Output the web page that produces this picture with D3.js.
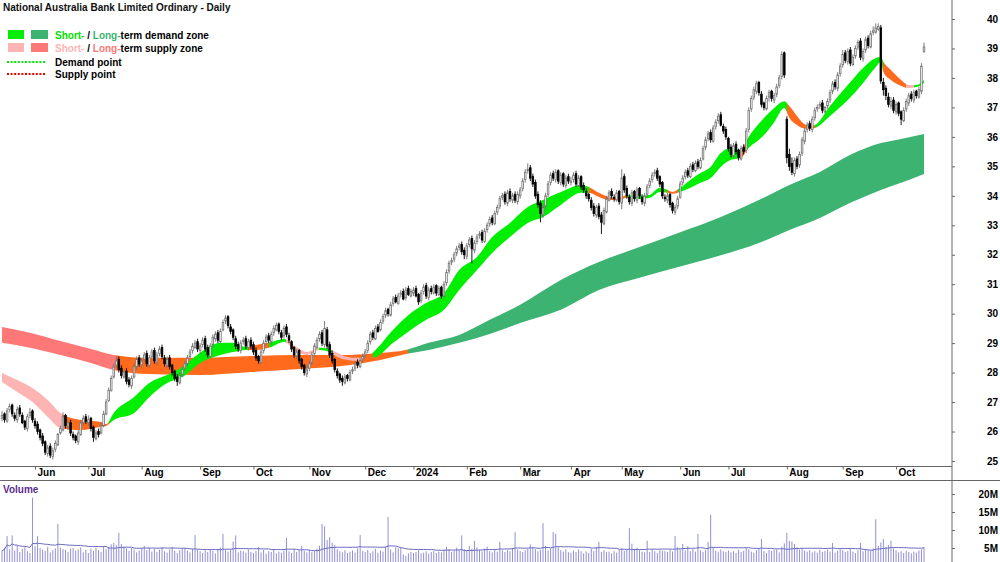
<!DOCTYPE html>
<html>
<head>
<meta charset="utf-8">
<script src="https://cdn.jsdelivr.net/npm/d3@7"></script>
<style>
body { margin: 0; background: #fff; }
svg { display: block; font-family: "Liberation Sans", Arial, sans-serif; }
</style>
</head>
<body>
<div id="chart"></div>
<script>
// daily prices (A$), one line per month, May 2023 .. Oct 2024
var closes = [
26.55,26.40,26.70,26.85,26.60,26.45,26.75,26.60,26.30,26.15,26.50,26.65,26.40,
26.20,26.00,25.80,25.60,25.30,25.45,25.20,25.35,25.60,25.90,26.10,26.50,26.20,26.30,25.95,25.80,25.70,25.95,26.30,26.45,26.35,
26.40,26.10,25.80,25.95,25.90,26.20,26.60,27.00,27.40,27.80,28.20,28.40,28.10,27.90,28.00,27.70,27.60,27.80,28.20,28.45,28.30,
28.40,28.60,28.30,28.50,28.70,28.40,28.60,28.80,28.55,28.30,28.45,28.20,28.00,27.80,27.70,27.90,28.10,28.30,28.50,28.70,28.90,29.00,28.80,
28.90,29.10,28.80,28.60,28.90,29.20,29.30,29.10,29.40,29.70,29.85,29.60,29.40,29.20,28.90,28.80,29.00,29.10,28.90,29.05,28.90,
28.70,28.50,28.40,28.70,29.00,29.20,29.10,29.30,29.50,29.60,29.40,29.20,29.50,29.30,29.10,28.80,28.60,28.70,28.40,28.20,28.00,28.10,
28.30,28.60,28.90,29.10,29.30,29.00,29.50,28.90,28.60,28.40,28.10,27.90,27.75,27.70,27.85,27.80,28.00,28.10,28.30,28.25,28.40,28.55,
28.70,29.00,29.30,29.20,29.50,29.40,29.70,29.90,30.10,30.00,30.30,30.50,30.40,30.60,30.70,30.50,30.80,30.65,30.75,
30.80,30.60,30.40,30.70,30.90,30.60,30.80,30.75,30.90,30.70,30.85,30.60,31.00,31.40,31.70,31.80,32.00,32.20,32.30,32.10,32.00,
32.30,32.50,32.20,32.40,32.60,32.70,32.50,32.80,33.00,33.20,33.10,33.40,33.60,33.90,34.00,33.80,34.10,33.90,34.00,33.85,34.05,
34.20,34.50,34.80,34.90,34.60,34.40,34.00,33.70,33.40,33.60,34.00,34.40,34.70,34.60,34.80,34.50,34.70,34.40,34.60,34.50,
34.50,34.70,34.40,34.60,34.30,34.20,34.00,33.90,33.60,33.40,33.60,33.30,33.10,33.50,33.90,34.10,34.00,33.90,34.10,33.80,
34.60,34.20,34.00,33.80,34.10,33.90,34.20,34.00,33.80,34.00,34.30,34.50,34.70,34.80,34.60,34.40,34.00,33.90,34.00,33.70,33.50,33.60,33.90,
34.40,34.60,34.80,34.70,35.00,34.90,35.10,35.00,35.20,35.60,35.90,36.10,35.90,36.30,36.50,36.70,36.40,36.20,36.00,
35.60,35.40,35.70,35.50,35.30,35.60,35.50,36.20,36.90,37.30,37.60,37.80,37.50,37.10,37.00,37.30,37.50,37.30,37.40,37.70,38.00,38.80,38.10,
35.30,35.00,34.80,35.20,35.00,35.40,35.90,36.20,36.40,36.30,36.60,36.90,37.00,37.10,36.90,37.00,37.20,37.50,37.80,37.70,38.10,38.40,
38.80,38.60,38.90,38.50,38.70,39.00,39.20,38.70,38.90,39.30,39.10,39.50,39.60,39.70,39.75,37.90,37.60,37.40,37.10,37.20,36.90,
37.10,36.80,36.60,36.90,37.20,37.40,37.30,37.50,37.40,37.60,38.40,39.05
];
var opens = [
26.45,26.60,26.35,26.75,26.90,26.55,26.40,26.80,26.55,26.35,26.10,26.55,26.70,
26.35,26.25,26.05,25.85,25.65,25.25,25.50,25.15,25.40,25.55,25.95,26.05,26.55,26.15,26.30,25.90,25.85,25.65,25.90,26.30,26.50,
26.30,26.45,26.15,25.75,26.00,25.95,26.20,26.60,27.05,27.40,27.85,28.25,28.45,28.15,27.85,28.05,27.75,27.55,27.85,28.20,28.50,
28.25,28.45,28.65,28.25,28.55,28.75,28.35,28.65,28.85,28.50,28.25,28.50,28.25,28.05,27.85,27.65,27.95,28.15,28.30,28.55,28.75,28.85,29.05,
28.75,28.95,29.15,28.85,28.55,28.95,29.15,29.35,29.05,29.45,29.75,29.90,29.55,29.45,29.15,28.95,28.75,29.05,29.15,28.85,29.10,
28.95,28.75,28.55,28.35,28.75,29.05,29.25,29.05,29.35,29.45,29.65,29.35,29.25,29.55,29.25,29.05,28.85,28.55,28.75,28.45,28.25,27.95,
28.15,28.35,28.65,28.85,29.15,29.35,28.95,29.45,28.95,28.65,28.45,28.05,27.95,27.80,27.65,27.90,27.75,28.05,28.15,28.35,28.20,28.45,
28.60,28.75,29.05,29.35,29.15,29.55,29.45,29.75,29.95,30.15,29.95,30.35,30.55,30.35,30.65,30.75,30.55,30.85,30.60,
30.70,30.85,30.65,30.45,30.75,30.95,30.55,30.85,30.70,30.95,30.65,30.90,30.60,31.05,31.45,31.75,31.85,32.05,32.25,32.35,32.15,
31.95,32.35,32.55,32.15,32.45,32.65,32.75,32.45,32.85,33.05,33.25,33.05,33.45,33.65,33.95,34.05,33.75,34.15,33.85,34.05,33.80,
34.00,34.25,34.55,34.85,34.95,34.65,34.45,34.05,33.75,33.35,33.65,34.05,34.45,34.75,34.55,34.85,34.45,34.75,34.35,34.65,
34.45,34.55,34.75,34.35,34.65,34.35,34.15,34.05,33.85,33.65,33.35,33.65,33.35,33.05,33.45,33.85,34.15,33.95,33.85,34.15,
33.75,34.65,34.25,33.95,33.75,34.15,33.85,34.25,33.95,33.75,34.05,34.35,34.55,34.75,34.85,34.65,34.45,33.95,33.85,34.05,33.75,33.45,33.65,
33.95,34.45,34.65,34.85,34.65,35.05,34.85,35.15,34.95,35.25,35.65,35.95,36.15,35.85,36.35,36.55,36.75,36.35,36.25,
35.95,35.65,35.35,35.75,35.55,35.25,35.65,35.55,36.25,36.95,37.35,37.55,37.85,37.45,37.15,36.95,37.35,37.55,37.25,37.45,37.75,38.05,38.85,
36.60,35.40,35.10,34.75,35.25,35.05,35.45,35.85,36.25,36.45,36.25,36.65,36.95,37.05,37.15,36.85,37.05,37.25,37.55,37.85,37.65,38.15,
38.45,38.85,38.55,38.95,38.45,38.75,39.05,39.25,38.65,38.95,39.35,39.05,39.55,39.55,39.65,39.70,37.85,37.65,37.35,37.05,37.25,
36.85,37.15,36.85,36.55,36.95,37.15,37.45,37.25,37.55,37.35,37.55,38.90
];
var highs = [
26.70,26.65,26.80,26.95,26.95,26.65,26.85,26.90,26.65,26.40,26.60,26.80,26.75,
26.45,26.35,26.10,25.95,25.70,25.55,25.60,25.45,25.70,25.95,26.20,26.65,26.60,26.40,26.40,26.00,25.90,26.05,26.40,26.55,26.60,
26.55,26.50,26.20,26.05,26.10,26.30,26.70,27.10,27.50,27.90,28.30,28.55,28.55,28.25,28.10,28.15,27.85,27.90,28.30,28.55,28.60,
28.50,28.70,28.75,28.60,28.80,28.85,28.70,28.90,28.95,28.60,28.55,28.60,28.30,28.10,27.95,28.00,28.20,28.40,28.60,28.80,29.00,29.10,29.15,
29.00,29.20,29.25,28.95,29.00,29.30,29.40,29.45,29.50,29.80,29.95,29.95,29.65,29.50,29.25,29.05,29.10,29.20,29.25,29.15,29.20,
29.05,28.85,28.60,28.80,29.10,29.30,29.35,29.40,29.60,29.70,29.70,29.45,29.60,29.65,29.35,29.10,28.90,28.80,28.80,28.50,28.30,28.25,
28.40,28.70,29.00,29.20,29.40,29.45,29.75,29.55,29.05,28.75,28.50,28.15,28.00,27.90,27.95,27.95,28.10,28.20,28.40,28.45,28.50,28.65,
28.80,29.10,29.40,29.45,29.60,29.65,29.80,30.00,30.20,30.20,30.40,30.60,30.65,30.70,30.80,30.85,30.90,30.95,30.85,
30.90,30.95,30.70,30.80,31.00,31.05,30.90,30.95,31.00,31.00,30.95,30.95,31.10,31.50,31.80,31.90,32.10,32.30,32.40,32.45,32.25,
32.40,32.60,32.65,32.50,32.70,32.80,32.85,32.90,33.10,33.30,33.35,33.50,33.70,34.00,34.10,34.15,34.20,34.25,34.10,34.15,34.15,
34.30,34.60,34.90,35.10,35.05,34.75,34.55,34.15,33.85,33.70,34.10,34.50,34.80,34.85,34.90,34.90,34.80,34.80,34.70,34.75,
34.65,34.80,34.85,34.70,34.70,34.45,34.25,34.10,33.95,33.75,33.70,33.75,33.45,33.60,34.00,34.20,34.25,34.05,34.20,34.20,
34.90,34.75,34.35,34.05,34.20,34.20,34.30,34.30,34.05,34.10,34.40,34.60,34.80,34.90,34.95,34.70,34.50,34.05,34.10,34.10,33.80,33.70,34.00,
34.50,34.70,34.90,34.95,35.10,35.15,35.20,35.25,35.30,35.70,36.00,36.20,36.25,36.40,36.60,36.80,36.85,36.45,36.35,
36.00,35.75,35.80,35.85,35.60,35.70,35.75,36.30,37.00,37.40,37.70,37.90,37.90,37.55,37.20,37.40,37.60,37.60,37.50,37.80,38.10,38.90,38.90,
36.70,35.60,35.30,35.30,35.35,35.50,36.00,36.30,36.50,36.55,36.70,37.00,37.10,37.20,37.25,37.05,37.30,37.60,37.90,37.95,38.20,38.50,
38.95,38.95,39.00,39.05,38.80,39.10,39.30,39.35,39.00,39.40,39.45,39.60,39.75,39.85,39.85,39.80,38.00,37.75,37.50,37.35,37.35,
37.20,37.20,36.90,37.00,37.30,37.50,37.55,37.60,37.60,37.70,38.50,39.20
];
var lows = [
26.35,26.30,26.30,26.65,26.50,26.35,26.30,26.50,26.25,26.05,26.00,26.45,26.30,
26.10,25.90,25.70,25.50,25.20,25.15,25.10,25.05,25.30,25.50,25.90,26.00,26.10,26.05,25.85,25.70,25.60,25.55,25.85,26.20,26.25,
26.20,26.00,25.65,25.70,25.80,25.90,26.15,26.55,27.00,27.35,27.80,28.15,28.00,27.80,27.80,27.60,27.50,27.45,27.80,28.10,28.20,
28.15,28.35,28.20,28.15,28.45,28.30,28.25,28.55,28.45,28.20,28.15,28.10,27.90,27.70,27.55,27.60,27.85,28.05,28.20,28.45,28.65,28.80,28.70,
28.65,28.85,28.70,28.50,28.50,28.85,29.05,29.00,29.00,29.40,29.65,29.50,29.30,29.10,28.80,28.70,28.65,28.95,28.80,28.75,28.80,
28.60,28.40,28.30,28.30,28.65,28.95,29.00,28.95,29.25,29.40,29.30,29.10,29.15,29.20,29.00,28.70,28.50,28.45,28.30,28.10,27.90,27.85,
28.05,28.25,28.55,28.80,29.05,28.90,28.85,28.80,28.50,28.30,28.00,27.80,27.65,27.55,27.60,27.70,27.70,27.95,28.05,28.15,28.15,28.35,
28.50,28.65,28.95,29.10,29.10,29.35,29.40,29.65,29.85,29.90,29.90,30.25,30.35,30.30,30.55,30.45,30.45,30.60,30.55,
30.60,30.55,30.30,30.35,30.65,30.50,30.45,30.65,30.65,30.60,30.60,30.50,30.55,30.95,31.35,31.65,31.75,31.95,32.15,32.00,31.85,
31.85,32.25,31.70,32.05,32.35,32.55,32.40,32.40,32.75,32.95,33.00,33.00,33.35,33.55,33.85,33.70,33.65,33.80,33.75,33.75,33.70,
33.90,34.15,34.45,34.75,34.50,34.30,33.90,33.60,33.10,33.25,33.55,33.95,34.35,34.50,34.45,34.40,34.35,34.30,34.25,34.40,
34.35,34.45,34.30,34.30,34.20,34.10,33.90,33.80,33.50,33.30,33.25,33.20,32.70,33.00,33.40,33.80,33.90,33.80,33.80,33.70,
33.55,34.10,33.90,33.70,33.65,33.80,33.75,33.90,33.70,33.65,33.95,34.25,34.45,34.65,34.50,34.30,33.90,33.80,33.75,33.60,33.40,33.35,33.55,
33.90,34.35,34.55,34.60,34.60,34.80,34.80,34.90,34.90,35.20,35.55,35.85,35.80,35.80,36.25,36.45,36.35,36.10,35.90,
35.50,35.30,35.30,35.40,35.20,35.20,35.40,35.45,36.15,36.85,37.25,37.45,37.40,37.00,36.90,36.90,37.20,37.20,37.15,37.35,37.65,37.95,38.00,
35.10,34.85,34.70,34.65,34.90,34.95,35.35,35.75,36.15,36.20,36.15,36.55,36.85,36.95,36.80,36.80,36.95,37.15,37.45,37.60,37.55,38.05,
38.35,38.50,38.45,38.40,38.40,38.65,38.95,38.60,38.55,38.85,39.00,39.00,39.45,39.50,39.60,37.80,37.40,37.25,37.00,36.95,36.80,
36.75,36.70,36.40,36.50,36.85,37.05,37.20,37.15,37.30,37.30,37.45,38.85
];
// daily volume, millions of shares
var volumes = [
4.2,5.1,8.3,4.6,8.5,4.3,5.6,3.9,4.8,5.2,4.1,3.6,19.0,
5.5,8.3,5.0,4.6,4.2,5.3,3.8,4.4,4.9,11.7,5.1,4.7,4.5,3.9,4.8,5.0,4.3,4.6,5.2,3.8,4.5,
3.6,4.8,4.2,5.1,4.4,3.9,5.5,4.7,5.3,6.0,6.4,5.8,9.2,6.1,5.4,4.9,4.2,5.0,4.6,3.8,4.3,
4.9,5.6,4.4,5.1,4.0,4.8,3.9,4.5,5.2,4.1,3.7,4.6,5.3,4.2,3.6,4.4,4.9,5.0,4.3,3.8,4.7,8.6,4.5,
4.1,3.6,4.4,3.9,4.7,4.2,3.5,4.8,5.1,8.9,4.6,4.0,4.5,6.8,8.5,3.8,4.3,4.1,3.7,4.6,3.9,
3.6,4.2,5.3,3.8,4.5,3.4,4.1,3.9,4.6,3.5,4.0,3.7,4.3,7.8,4.1,3.6,4.8,3.9,4.4,5.6,4.2,3.8,
4.5,3.9,4.2,4.8,5.6,11.7,11.0,7.2,8.0,6.5,5.9,4.7,4.1,3.8,4.4,3.6,4.0,4.3,3.7,4.9,8.6,4.2,
3.9,4.5,3.6,4.1,4.8,3.7,4.3,4.0,5.4,13.6,4.6,3.8,5.2,4.9,5.1,3.2,2.8,3.5,3.9,
3.6,3.9,4.4,3.5,3.7,4.1,3.4,3.9,4.2,3.6,4.0,3.8,4.5,5.3,4.6,3.9,4.2,5.1,4.4,8.5,4.7,
4.3,5.6,4.8,7.0,5.2,4.5,4.1,4.9,5.4,4.2,3.8,4.6,4.0,6.7,4.4,3.9,4.5,4.1,5.0,9.4,4.6,
4.2,3.9,4.4,4.8,6.0,5.3,4.7,4.1,4.5,11.9,5.6,4.3,4.9,9.4,9.0,5.2,4.4,4.0,4.6,3.8,
3.7,4.3,3.9,4.6,4.1,3.5,4.0,3.6,4.8,4.2,5.3,6.7,3.9,4.4,3.8,4.0,3.5,4.1,3.7,4.5,
4.9,4.2,4.6,10.5,6.2,4.8,5.1,4.4,4.0,3.8,7.0,3.9,4.7,4.1,3.6,4.4,4.3,4.2,3.9,4.5,4.0,8.3,5.2,
4.6,6.1,4.3,5.5,4.1,4.7,4.0,8.9,4.4,3.9,4.5,6.7,14.2,5.0,4.2,3.8,4.6,4.1,3.9,
4.3,3.8,4.1,3.6,4.5,3.9,4.2,5.1,4.7,4.0,3.7,4.4,4.8,7.5,4.1,3.6,4.5,4.2,4.5,4.6,3.8,5.4,6.3,
9.2,7.0,6.8,6.1,5.2,4.6,4.9,4.3,4.0,4.4,3.8,4.1,3.7,4.5,3.9,4.2,4.6,4.0,6.4,3.7,4.3,4.8,
4.5,3.9,4.2,4.8,4.0,3.6,4.4,6.4,4.1,4.6,4.3,4.3,4.9,13.0,5.6,6.5,7.5,5.2,5.8,7.0,4.9,
4.4,3.8,4.1,3.6,4.2,3.9,3.5,4.0,3.7,4.3,4.6,5.3
];

// short-term zone: edges at these trading-day numbers
var stDay = [0,6,12,18,23,31,39,41,44,52,58,65,71,78,86,91,96,100,105,111,116,120,125,129,132,136,140,144,146,154,161,167,174,180,187,193,200,207,213,220,228,231,235,239,243,246,251,255,259,262,264,267,271,275,279,283,287,291,293,300,304,308,310,313,315,318,320,326,333,339,344,346,347,350,354,357,360,363];
var stUpper = [27.99,27.75,27.48,27.07,26.63,26.39,26.32,26.25,26.63,27.17,27.65,27.92,28.19,28.67,29.01,29.01,28.87,28.94,29.01,29.14,28.87,28.70,28.84,28.80,28.67,28.53,28.50,28.53,28.67,29.45,30.02,30.36,30.70,31.48,31.92,32.60,33.08,33.62,33.86,34.13,34.37,34.30,34.10,33.96,33.93,34.03,34.00,34.03,34.27,34.20,34.13,34.27,34.54,34.77,34.98,35.45,35.62,35.55,35.86,36.64,36.98,37.21,37.05,36.71,36.50,36.37,36.40,37.05,37.76,38.34,38.68,38.71,38.55,38.27,37.93,37.76,37.76,37.93];
var stLower = [27.68,27.34,27.00,26.49,26.12,26.05,26.16,26.19,26.39,26.63,27.17,27.65,27.85,28.33,28.60,28.70,28.77,28.77,28.84,29.04,28.70,28.60,28.77,28.70,28.53,28.43,28.40,28.50,28.50,29.01,29.45,29.79,30.13,30.80,31.48,32.06,32.60,33.08,33.28,33.69,34.10,34.10,33.96,33.86,33.86,33.93,33.89,33.93,34.13,34.10,34.07,34.13,34.27,34.44,34.60,34.98,35.22,35.28,35.52,36.06,36.50,36.98,36.64,36.40,36.30,36.27,36.30,36.71,37.25,37.83,38.37,38.54,38.20,37.93,37.73,37.66,37.69,37.83];
var stStateDay = [0,24,42,97,105,112,125,130,142,146,231,246,262,266,290,293,309,320,347,356,359];
var stState = ["supply","weak","demand","weak","demand","supply","demand","supply","weak","demand","weak","demand","weak","demand","weak","demand","weak","demand","weak","supply","demand"];

// long-term zone
var ltDay = [0,11,23,35,44,58,78,98,117,137,149,159,168,180,192,204,220,235,251,267,283,298,310,322,334,346,354,363];
var ltUpper = [29.55,29.35,29.07,28.80,28.60,28.50,28.50,28.56,28.60,28.60,28.67,28.77,29.01,29.28,29.79,30.30,31.14,31.75,32.26,32.76,33.28,33.86,34.37,34.81,35.39,35.79,35.93,36.10];
var ltLower = [29.01,28.84,28.60,28.33,28.09,27.95,27.92,28.02,28.12,28.26,28.43,28.63,28.77,29.01,29.31,29.68,30.13,30.80,31.22,31.60,31.98,32.40,32.84,33.25,33.76,34.20,34.44,34.74];
var ltStateDay = [0,45,160];
var ltState = ["supply","weak","demand"];

var priceTicks = [25,26,27,28,29,30,31,32,33,34,35,36,37,38,39,40];
var volTicks = [5,10,15,20];
var holidays = ["2023-06-12","2023-12-25","2023-12-26","2024-01-01","2024-01-26","2024-03-29","2024-04-01","2024-04-25","2024-06-10"];

var stColors = {demand: "#00ee00", supply: "#ffb4b4", weak: "#ff6a1c"};
var ltColors = {demand: "#3cb371", supply: "#ff7878", weak: "#ff6a1c"};

// trading days
var dates = [];
for (var t = Date.UTC(2023, 4, 15); dates.length < closes.length; t += 864e5) {
  var dd = new Date(t);
  var wd = dd.getUTCDay();
  if (wd === 0 || wd === 6) continue;
  if (holidays.indexOf(dd.toISOString().slice(0, 10)) >= 0) continue;
  dates.push(dd);
}
var n = closes.length;

var width = 1000, height = 562, axisX = 952;

var x = d3.scaleLinear().domain([0, n - 1]).range([2, 924]);
var y = d3.scaleLinear().domain([25, 40]).range([461, 19]);
var yv = d3.scaleLinear().domain([0, 20]).range([566, 494]);

var svg = d3.select("#chart").append("svg")
  .attr("width", width)
  .attr("height", height);

var defs = svg.append("defs");
svg.append("clipPath").attr("id", "priceClip")
  .append("rect").attr("x", 0).attr("y", 0).attr("width", axisX).attr("height", 466);

// zones
function drawZone(days, upper, lower, stateDays, states, colors, id) {
  var x0 = x(0), span = x(n - 1) - x(0);
  var grad = defs.append("linearGradient")
    .attr("id", id)
    .attr("gradientUnits", "userSpaceOnUse")
    .attr("x1", x0).attr("x2", x(n - 1))
    .attr("y1", 0).attr("y2", 0);
  stateDays.forEach(function(s, k) {
    var a = (x(s) - x0) / span;
    var b = k + 1 < stateDays.length ? (x(stateDays[k + 1]) - x0) / span : 1;
    grad.append("stop").attr("offset", a).attr("stop-color", colors[states[k]]);
    grad.append("stop").attr("offset", b).attr("stop-color", colors[states[k]]);
  });
  var pts = days.map(function(d, k) { return {i: d, hi: upper[k], lo: lower[k]}; });
  var area = d3.area()
    .x(function(d) { return x(d.i); })
    .y0(function(d) { return y(d.lo); })
    .y1(function(d) { return y(d.hi); })
    .curve(d3.curveMonotoneX);
  svg.append("path")
    .datum(pts)
    .attr("clip-path", "url(#priceClip)")
    .attr("d", area)
    .attr("fill", "url(#" + id + ")");
}
drawZone(ltDay, ltUpper, ltLower, ltStateDay, ltState, ltColors, "ltGrad");
drawZone(stDay, stUpper, stLower, stStateDay, stState, stColors, "stGrad");

// candles
var candles = svg.append("g");
candles.selectAll(".wick")
  .data(closes)
  .enter().append("line")
  .attr("class", "wick")
  .attr("x1", function(d, i) { return x(i); })
  .attr("x2", function(d, i) { return x(i); })
  .attr("y1", function(d, i) { return y(Math.max(highs[i], opens[i], d)); })
  .attr("y2", function(d, i) { return y(Math.min(lows[i], opens[i], d)); })
  .attr("stroke", function(d, i) { return d >= opens[i] ? "#707070" : "#000"; })
  .attr("stroke-width", 0.9);
candles.selectAll(".body")
  .data(closes)
  .enter().append("rect")
  .attr("class", "body")
  .attr("x", function(d, i) { return x(i) - 0.8; })
  .attr("width", 1.6)
  .attr("y", function(d, i) { return y(Math.max(opens[i], d)); })
  .attr("height", function(d, i) { return Math.max(0.8, Math.abs(y(opens[i]) - y(d))); })
  .attr("fill", function(d, i) { return d >= opens[i] ? "#fff" : "#000"; })
  .attr("stroke", function(d, i) { return d >= opens[i] ? "#707070" : "#000"; })
  .attr("stroke-width", 0.8);

// frame lines
svg.append("line").attr("x1", axisX).attr("x2", axisX).attr("y1", 0).attr("y2", height)
  .attr("stroke", "#666").attr("stroke-width", 1);
svg.append("line").attr("x1", 0).attr("x2", axisX).attr("y1", 466.5).attr("y2", 466.5)
  .attr("stroke", "#666").attr("stroke-width", 1);
svg.append("line").attr("x1", 0).attr("x2", width).attr("y1", 480.5).attr("y2", 480.5)
  .attr("stroke", "#666").attr("stroke-width", 1);

// price axis
var yAxis = svg.append("g")
  .attr("transform", "translate(" + axisX + ",0)")
  .call(d3.axisRight(y).tickValues(priceTicks).tickSize(3).tickFormat(d3.format("d")));
yAxis.select(".domain").remove();
yAxis.selectAll("line").attr("stroke", "#666");
yAxis.selectAll("text")
  .attr("x", 46)
  .attr("text-anchor", "end")
  .style("font-size", "10px")
  .style("font-weight", "bold")
  .attr("fill", "#000");

// month axis
var monthStarts = [];
dates.forEach(function(d, i) {
  if (i > 0 && d.getUTCMonth() !== dates[i - 1].getUTCMonth()) monthStarts.push(i);
});
var xAxis = svg.append("g")
  .attr("transform", "translate(0,466.5)")
  .call(d3.axisBottom(x).tickValues(monthStarts).tickSize(3)
    .tickFormat(function(i) {
      var d = dates[i];
      return d.getUTCMonth() === 0 ? d3.utcFormat("%Y")(d) : d3.utcFormat("%b")(d);
    }));
xAxis.select(".domain").remove();
xAxis.selectAll("line").attr("stroke", "#666");
xAxis.selectAll("text")
  .attr("y", 2)
  .attr("dx", 2)
  .attr("text-anchor", "start")
  .style("font-size", "10px")
  .style("font-weight", "bold")
  .attr("fill", "#000");

// volume
svg.append("g").selectAll("line")
  .data(volumes)
  .enter().append("line")
  .attr("x1", function(d, i) { return x(i); })
  .attr("x2", function(d, i) { return x(i); })
  .attr("y1", yv(0))
  .attr("y2", function(d) { return yv(d); })
  .attr("stroke", "#9090d8")
  .attr("stroke-width", 1);

var maLen = 30;
var volAvg = volumes.map(function(v, i) {
  return d3.mean(volumes.slice(Math.max(0, i - maLen + 1), i + 1));
});
svg.append("path")
  .datum(volAvg)
  .attr("fill", "none")
  .attr("stroke", "#6a6ac0")
  .attr("stroke-width", 1)
  .attr("d", d3.line().x(function(d, i) { return x(i); }).y(function(d) { return yv(d); }));

var vAxis = svg.append("g")
  .attr("transform", "translate(" + axisX + ",0)")
  .call(d3.axisRight(yv).tickValues(volTicks).tickSize(3).tickFormat(function(d) { return d + "M"; }));
vAxis.select(".domain").remove();
vAxis.selectAll("line").attr("stroke", "#666");
vAxis.selectAll("text")
  .attr("x", 46)
  .attr("text-anchor", "end")
  .style("font-size", "10px")
  .style("font-weight", "bold")
  .attr("fill", "#000");

svg.append("text")
  .attr("x", 3).attr("y", 493)
  .style("font-size", "10px").style("font-weight", "bold")
  .attr("fill", "#5c2d91")
  .text("Volume");

// title
svg.append("text")
  .attr("x", 3).attr("y", 11)
  .style("font-size", "10px").style("font-weight", "bold")
  .attr("fill", "#111")
  .text("National Australia Bank Limited Ordinary - Daily");

// legend
var legend = svg.append("g").style("font-size", "10px").style("font-weight", "bold");
legend.append("rect").attr("x", 8).attr("y", 30).attr("width", 16).attr("height", 9).attr("fill", stColors.demand);
legend.append("rect").attr("x", 31).attr("y", 30).attr("width", 17).attr("height", 9).attr("fill", ltColors.demand);
legend.append("rect").attr("x", 8).attr("y", 43).attr("width", 16).attr("height", 9).attr("fill", stColors.supply);
legend.append("rect").attr("x", 31).attr("y", 43).attr("width", 17).attr("height", 9).attr("fill", ltColors.supply);

var row1 = legend.append("text").attr("x", 55).attr("y", 38.5);
row1.append("tspan").attr("fill", "#00e000").text("Short-");
row1.append("tspan").attr("fill", "#000").text(" / ");
row1.append("tspan").attr("fill", ltColors.demand).text("Long-");
row1.append("tspan").attr("fill", "#000").text("term demand zone");

var row2 = legend.append("text").attr("x", 55).attr("y", 51.5);
row2.append("tspan").attr("fill", stColors.supply).text("Short-");
row2.append("tspan").attr("fill", "#000").text(" / ");
row2.append("tspan").attr("fill", ltColors.supply).text("Long-");
row2.append("tspan").attr("fill", "#000").text("term supply zone");

legend.append("line").attr("x1", 7).attr("x2", 45).attr("y1", 62).attr("y2", 62)
  .attr("stroke", "#00ee00").attr("stroke-width", 2).attr("stroke-dasharray", "2,1.6");
legend.append("line").attr("x1", 7).attr("x2", 45).attr("y1", 74).attr("y2", 74)
  .attr("stroke", "#ee0000").attr("stroke-width", 2).attr("stroke-dasharray", "2,1.6");
legend.append("text").attr("x", 55).attr("y", 65.5).attr("fill", "#000").text("Demand point");
legend.append("text").attr("x", 55).attr("y", 77.5).attr("fill", "#000").text("Supply point");
</script>
</body>
</html>
